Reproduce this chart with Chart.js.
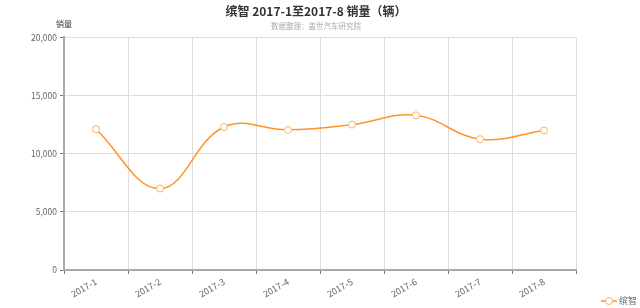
<!DOCTYPE html>
<html>
<head>
<meta charset="utf-8">
<script src="https://cdn.jsdelivr.net/npm/chart.js@4.4.1/dist/chart.umd.min.js"></script>
<style>
  html, body { margin: 0; padding: 0; background: #fff; }
  #wrap { width: 640px; height: 308px; }
</style>
</head>
<body>
<div id="wrap"><canvas id="c" width="640" height="308"></canvas></div>
<script>
const months = ['2017-1', '2017-2', '2017-3', '2017-4', '2017-5', '2017-6', '2017-7', '2017-8'];
const sales = [12100, 7000, 12300, 12050, 12500, 13300, 11250, 12000];
const seriesName = '缤智';
const titleText = '缤智 2017-1至2017-8 销量（辆）';
const subtitleText = '数据整理：盖世汽车研究院';
const yAxisName = '销量';

const FONT = '"Microsoft YaHei", "Noto Sans CJK SC", sans-serif';
const ORANGE = '#ff9326';
const POINT_EDGE = '#ffb060';

// y axis name above the axis + legend in the bottom right corner
const extras = {
  id: 'extras',
  afterDraw(chart) {
    const ctx = chart.ctx;
    const area = chart.chartArea;
    ctx.save();
    ctx.font = '8px ' + FONT;
    ctx.fillStyle = '#333';
    ctx.textAlign = 'center';
    ctx.textBaseline = 'middle';
    ctx.fillText(yAxisName, area.left, 24);

    // legend
    const ds = chart.data.datasets[0];
    const ly = 301, lx = 601;
    ctx.strokeStyle = ds.borderColor;
    ctx.lineWidth = 1.5;
    ctx.beginPath(); ctx.moveTo(lx, ly); ctx.lineTo(lx + 16, ly); ctx.stroke();
    ctx.fillStyle = '#fff';
    ctx.beginPath(); ctx.arc(lx + 8, ly, 3.5, 0, Math.PI * 2); ctx.fill();
    ctx.lineWidth = 1;
    ctx.strokeStyle = ds.pointBorderColor;
    ctx.stroke();
    ctx.font = '9px ' + FONT;
    ctx.fillStyle = '#666';
    ctx.textAlign = 'left';
    ctx.fillText(ds.label, lx + 18, ly);
    ctx.restore();
  }
};

new Chart(document.getElementById('c'), {
  type: 'line',
  data: {
    labels: months,
    datasets: [{
      label: seriesName,
      data: sales,
      borderColor: ORANGE,
      borderWidth: 1.5,
      tension: 0.4,
      pointRadius: 3.5,
      pointBackgroundColor: '#fff',
      pointBorderColor: POINT_EDGE,
      pointBorderWidth: 1,
      fill: false
    }]
  },
  options: {
    responsive: false,
    animation: false,
    layout: { padding: { left: 0, right: 8, top: 0, bottom: 0 } },
    plugins: {
      title: {
        display: true,
        text: titleText,
        color: '#333',
        font: { family: FONT, size: 12, weight: 'bold' },
        padding: { top: 4, bottom: 3 }
      },
      subtitle: {
        display: true,
        text: subtitleText,
        color: '#aaa',
        font: { family: FONT, size: 7.5 },
        padding: { top: 0, bottom: 7 }
      },
      legend: { display: false },
      tooltip: { enabled: false }
    },
    scales: {
      x: {
        offset: true,
        grid: { offset: true, color: '#ddd', tickColor: '#777', tickLength: 4 },
        border: { color: '#aaa', width: 2 },
        ticks: {
          color: '#666',
          font: { family: FONT, size: 9 },
          minRotation: 30,
          maxRotation: 30,
          padding: 2
        },
        afterFit(s) { s.height = 38; }
      },
      y: {
        min: 0,
        max: 20000,
        ticks: {
          stepSize: 5000,
          color: '#666',
          font: { family: FONT, size: 8.5 },
          padding: 3,
          callback: v => v.toLocaleString('en-US')
        },
        grid: { color: '#ddd', tickColor: '#777', tickLength: 4 },
        border: { color: '#aaa', width: 2 },
        afterFit(s) { s.width = 64; }
      },
      yR: {
        position: 'right',
        display: true,
        grid: { display: false },
        border: { display: false },
        ticks: { display: false },
        afterFit(s) { s.width = 56; }
      }
    }
  },
  plugins: [extras]
});
</script>
</body>
</html>
